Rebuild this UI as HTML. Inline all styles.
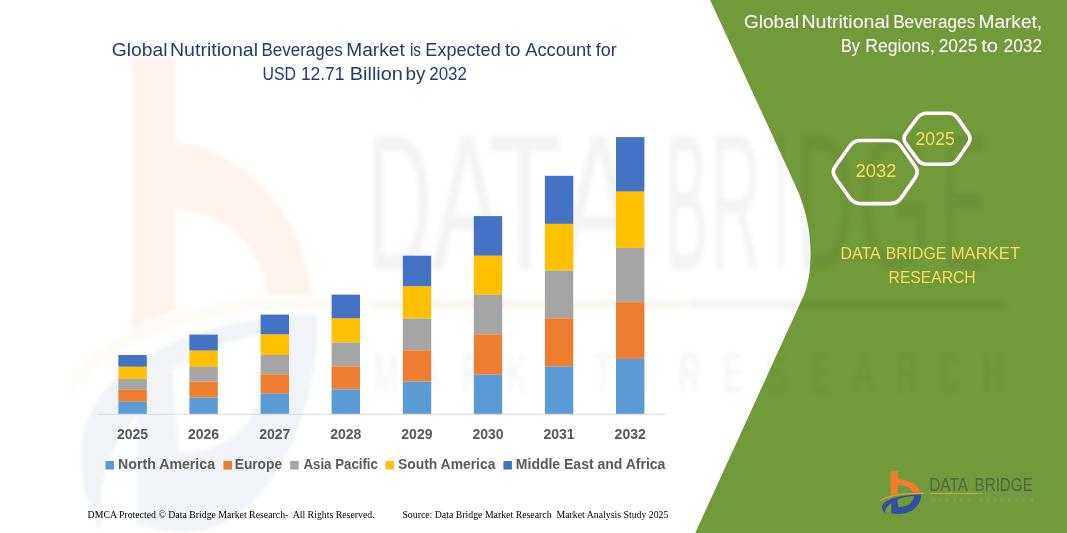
<!DOCTYPE html>
<html><head><meta charset="utf-8"><title>chart</title>
<style>
html,body{margin:0;padding:0;background:#fff;}
body{width:1067px;height:533px;overflow:hidden;font-family:"Liberation Sans",sans-serif;}
svg{display:block}
text{font-family:"Liberation Sans",sans-serif;}
.yr{font-size:14px;font-weight:bold;fill:#595959;}
.lg{font-weight:bold;fill:#595959;}
.ttl{fill:#243c6b;}
.rt{fill:#ffffff;}
.yl{fill:#ffd966;}
.ft{font-family:"Liberation Serif",serif;font-size:10px;fill:#000;white-space:pre;}
</style></head><body>
<svg width="1067" height="533" viewBox="0 0 1067 533">
<defs>
<filter id="bl2" x="-5%" y="-5%" width="110%" height="110%"><feGaussianBlur stdDeviation="1.6"/></filter>
<filter id="bl3" x="-5%" y="-10%" width="110%" height="120%"><feGaussianBlur stdDeviation="2.8"/></filter>
<g id="logoicon">
<path id="lo1" d="M890.5,471.2 L897.7,471.2 L897.7,478.9 C905.5,478.9 919,484 920.3,492.6 L912.8,492.6 C912.3,488.5 906,485 897.7,485 L897.7,494 L890.5,495.6 Z" fill="#f47b30"/>
<path id="lo2" d="M880.2,500.9 C888,495.6 903,492.9 923.6,493.4" fill="none" stroke="#ee9a3a" stroke-width="1.1"/>
<path id="lo3" fill-rule="evenodd" fill="#2f4f9f" d="M885.3,513.9 C879.5,507.5 881.5,502.5 890.5,499 C899,495.8 910,494.5 921.2,494.4 C921.5,503 914.5,511.5 904,513.6 C899.5,514.4 895,514 891.3,513.2 L891.3,503.6 C887.5,505.6 884.6,509 885.3,513.9 Z M897.2,499.4 C903,497.2 909,496.3 914.2,496.1 C913.5,500 911.5,503 909,504.5 C906,506.3 902,506.9 898.2,506.8 Z"/>
</g>
<g id="logotext">
<text x="929.2" y="490.6" font-size="17.7" fill="#4e6247" fill-opacity="0.9" textLength="38.83" lengthAdjust="spacingAndGlyphs">DATA</text><text x="974.51" y="490.6" font-size="17.7" fill="#4e6247" fill-opacity="0.9" textLength="58.33" lengthAdjust="spacingAndGlyphs">BRIDGE</text>
<rect x="930.4" y="493" width="52.3" height="1" fill="#d8a23c"/>
<rect x="982.7" y="493" width="53" height="1" fill="#78906a"/>
<text x="930.4" y="502.3" font-size="5.2" fill="#88a276" textLength="103" lengthAdjust="spacing">MARKET RESEARCH</text>
</g>
</defs>
<rect width="1067" height="533" fill="#ffffff"/>
<!-- green panel -->
<path d="M710.1,0 L1067,0 L1067,533 L695.2,533 L803.5,296 C808.5,284.5 810.6,268 810.6,254 C810.6,232 806.7,210 795.2,185 Z" fill="#719b3a"/>
<!-- watermark: stretched logo -->
<g filter="url(#bl2)">
<g transform="translate(132,57) scale(6.03,11.1) translate(-890.5,-471.2)">
<use href="#lo1" opacity="0.085"/><use href="#lo2" opacity="0.05"/><use href="#lo3" opacity="0.06"/>
</g>
</g>
<g filter="url(#bl3)">
<g opacity="0.05" fill="#333333">
<text transform="translate(366.38,269) scale(1,1.93)" font-size="100" textLength="65.77" lengthAdjust="spacingAndGlyphs">D</text>
<text transform="translate(432.0,269) scale(1,1.93)" font-size="100" textLength="71.48" lengthAdjust="spacingAndGlyphs">A</text>
<text transform="translate(488.11,269) scale(1,1.93)" font-size="100" textLength="73.96" lengthAdjust="spacingAndGlyphs">T</text>
<text transform="translate(558.0,269) scale(1,1.93)" font-size="100" textLength="81.4" lengthAdjust="spacingAndGlyphs">A</text>
<text transform="translate(666.14,269) scale(1,1.93)" font-size="100" textLength="41.47" lengthAdjust="spacingAndGlyphs">B</text>
<text transform="translate(710.49,269) scale(1,1.93)" font-size="100" textLength="50.96" lengthAdjust="spacingAndGlyphs">R</text>
<text transform="translate(772.71,269) scale(1,1.93)" font-size="100" textLength="15.24" lengthAdjust="spacingAndGlyphs">I</text>
<text transform="translate(796.85,269) scale(1,1.93)" font-size="100" textLength="56.88" lengthAdjust="spacingAndGlyphs">D</text>
<text transform="translate(857.5,269) scale(1,1.93)" font-size="100" textLength="74.67" lengthAdjust="spacingAndGlyphs">G</text>
<text transform="translate(941.57,269) scale(1,1.93)" font-size="100" textLength="46.35" lengthAdjust="spacingAndGlyphs">E</text>
<text transform="translate(0,392) scale(1,1.83)" font-size="30" text-anchor="middle" x="386.0 429.4 472.8 516.2 559.6 603.0 646.4 689.8 733.2 776.6 820.0 863.4 906.8 950.2 993.6" y="0">MARKET RESEARCH</text>
<rect x="688" y="301" width="320" height="7"/>
</g>
<rect x="372" y="301" width="316" height="7" fill="#e8913a" opacity="0.10"/>
</g>
<!-- axis -->
<line x1="97" y1="414.3" x2="666" y2="414.3" stroke="#d9d9d9" stroke-width="1"/>
<rect x="118.4" y="355.0" width="28.4" height="11.8" fill="#4472c4"/>
<rect x="118.4" y="366.8" width="28.4" height="12.0" fill="#ffc000"/>
<rect x="118.4" y="378.8" width="28.4" height="11.0" fill="#a5a5a5"/>
<rect x="118.4" y="389.8" width="28.4" height="11.9" fill="#ed7d31"/>
<rect x="118.4" y="401.7" width="28.4" height="12.1" fill="#5b9bd5"/>
<text x="132.6" y="439" text-anchor="middle" class="yr">2025</text>
<rect x="189.4" y="334.6" width="28.4" height="16.1" fill="#4472c4"/>
<rect x="189.4" y="350.7" width="28.4" height="16.2" fill="#ffc000"/>
<rect x="189.4" y="366.9" width="28.4" height="14.7" fill="#a5a5a5"/>
<rect x="189.4" y="381.6" width="28.4" height="16.0" fill="#ed7d31"/>
<rect x="189.4" y="397.6" width="28.4" height="16.2" fill="#5b9bd5"/>
<text x="203.6" y="439" text-anchor="middle" class="yr">2026</text>
<rect x="260.6" y="314.6" width="28.4" height="20.0" fill="#4472c4"/>
<rect x="260.6" y="334.6" width="28.4" height="20.3" fill="#ffc000"/>
<rect x="260.6" y="354.9" width="28.4" height="19.4" fill="#a5a5a5"/>
<rect x="260.6" y="374.3" width="28.4" height="19.4" fill="#ed7d31"/>
<rect x="260.6" y="393.7" width="28.4" height="20.1" fill="#5b9bd5"/>
<text x="274.8" y="439" text-anchor="middle" class="yr">2027</text>
<rect x="331.6" y="294.6" width="28.4" height="24.0" fill="#4472c4"/>
<rect x="331.6" y="318.6" width="28.4" height="23.9" fill="#ffc000"/>
<rect x="331.6" y="342.5" width="28.4" height="23.9" fill="#a5a5a5"/>
<rect x="331.6" y="366.4" width="28.4" height="23.1" fill="#ed7d31"/>
<rect x="331.6" y="389.5" width="28.4" height="24.3" fill="#5b9bd5"/>
<text x="345.8" y="439" text-anchor="middle" class="yr">2028</text>
<rect x="402.8" y="255.7" width="28.4" height="30.8" fill="#4472c4"/>
<rect x="402.8" y="286.5" width="28.4" height="32.1" fill="#ffc000"/>
<rect x="402.8" y="318.6" width="28.4" height="31.8" fill="#a5a5a5"/>
<rect x="402.8" y="350.4" width="28.4" height="31.2" fill="#ed7d31"/>
<rect x="402.8" y="381.6" width="28.4" height="32.2" fill="#5b9bd5"/>
<text x="416.9" y="439" text-anchor="middle" class="yr">2029</text>
<rect x="473.8" y="216.1" width="28.4" height="39.7" fill="#4472c4"/>
<rect x="473.8" y="255.8" width="28.4" height="38.9" fill="#ffc000"/>
<rect x="473.8" y="294.7" width="28.4" height="39.7" fill="#a5a5a5"/>
<rect x="473.8" y="334.4" width="28.4" height="40.2" fill="#ed7d31"/>
<rect x="473.8" y="374.6" width="28.4" height="39.2" fill="#5b9bd5"/>
<text x="488.0" y="439" text-anchor="middle" class="yr">2030</text>
<rect x="544.9" y="175.8" width="28.4" height="48.1" fill="#4472c4"/>
<rect x="544.9" y="223.9" width="28.4" height="46.7" fill="#ffc000"/>
<rect x="544.9" y="270.6" width="28.4" height="47.7" fill="#a5a5a5"/>
<rect x="544.9" y="318.3" width="28.4" height="48.4" fill="#ed7d31"/>
<rect x="544.9" y="366.7" width="28.4" height="47.1" fill="#5b9bd5"/>
<text x="559.1" y="439" text-anchor="middle" class="yr">2031</text>
<rect x="616.0" y="137.1" width="28.4" height="54.6" fill="#4472c4"/>
<rect x="616.0" y="191.7" width="28.4" height="56.2" fill="#ffc000"/>
<rect x="616.0" y="247.9" width="28.4" height="54.3" fill="#a5a5a5"/>
<rect x="616.0" y="302.2" width="28.4" height="56.7" fill="#ed7d31"/>
<rect x="616.0" y="358.9" width="28.4" height="54.9" fill="#5b9bd5"/>
<text x="630.2" y="439" text-anchor="middle" class="yr">2032</text>
<!-- legend -->
<rect x="105.5" y="461" width="8.5" height="8.5" fill="#5b9bd5"/>
<rect x="223.5" y="461" width="8.5" height="8.5" fill="#ed7d31"/>
<rect x="290.2" y="461" width="8.5" height="8.5" fill="#a5a5a5"/>
<rect x="385.4" y="461" width="8.5" height="8.5" fill="#ffc000"/>
<rect x="503.4" y="461" width="8.5" height="8.5" fill="#4472c4"/>
<!-- words -->
<text x="111.8" y="55.9" class="ttl" font-size="17.6" textLength="55.78" lengthAdjust="spacingAndGlyphs">Global</text>
<text x="169.97" y="55.9" class="ttl" font-size="17.6" textLength="88.02" lengthAdjust="spacingAndGlyphs">Nutritional</text>
<text x="261.47" y="55.9" class="ttl" font-size="17.6" textLength="81.26" lengthAdjust="spacingAndGlyphs">Beverages</text>
<text x="346.2" y="55.9" class="ttl" font-size="17.6" textLength="58.53" lengthAdjust="spacingAndGlyphs">Market</text>
<text x="409.94" y="55.9" class="ttl" font-size="17.6" textLength="11.15" lengthAdjust="spacingAndGlyphs">is</text>
<text x="425.39" y="55.9" class="ttl" font-size="17.6" textLength="75.33" lengthAdjust="spacingAndGlyphs">Expected</text>
<text x="504.9" y="55.9" class="ttl" font-size="17.6" textLength="15.66" lengthAdjust="spacingAndGlyphs">to</text>
<text x="525.3" y="55.9" class="ttl" font-size="17.6" textLength="66.04" lengthAdjust="spacingAndGlyphs">Account</text>
<text x="595.8" y="55.9" class="ttl" font-size="17.6" textLength="20.99" lengthAdjust="spacingAndGlyphs">for</text>
<text x="262.61" y="80.1" class="ttl" font-size="17.6" textLength="33.44" lengthAdjust="spacingAndGlyphs">USD</text>
<text x="300.91" y="80.1" class="ttl" font-size="17.6" textLength="43.59" lengthAdjust="spacingAndGlyphs">12.71</text>
<text x="349.74" y="80.1" class="ttl" font-size="17.6" textLength="53.18" lengthAdjust="spacingAndGlyphs">Billion</text>
<text x="405.52" y="80.1" class="ttl" font-size="17.6" textLength="19.88" lengthAdjust="spacingAndGlyphs">by</text>
<text x="429.31" y="80.1" class="ttl" font-size="17.6" textLength="37.58" lengthAdjust="spacingAndGlyphs">2032</text>
<text x="744.01" y="28.1" class="rt" font-size="17.6" textLength="54.94" lengthAdjust="spacingAndGlyphs">Global</text>
<text x="801.47" y="28.1" class="rt" font-size="17.6" textLength="88.22" lengthAdjust="spacingAndGlyphs">Nutritional</text>
<text x="893.16" y="28.1" class="rt" font-size="17.6" textLength="82.08" lengthAdjust="spacingAndGlyphs">Beverages</text>
<text x="978.51" y="28.1" class="rt" font-size="17.6" textLength="63.62" lengthAdjust="spacingAndGlyphs">Market,</text>
<text x="841.03" y="51.6" class="rt" font-size="17.6" textLength="18.97" lengthAdjust="spacingAndGlyphs">By</text>
<text x="865.32" y="51.6" class="rt" font-size="17.6" textLength="69.49" lengthAdjust="spacingAndGlyphs">Regions,</text>
<text x="938.68" y="51.6" class="rt" font-size="17.6" textLength="38.72" lengthAdjust="spacingAndGlyphs">2025</text>
<text x="981.2" y="51.6" class="rt" font-size="17.6" textLength="16.82" lengthAdjust="spacingAndGlyphs">to</text>
<text x="1003.49" y="51.6" class="rt" font-size="17.6" textLength="38.62" lengthAdjust="spacingAndGlyphs">2032</text>
<text x="840.56" y="258.8" class="yl" font-size="17.3" textLength="40.07" lengthAdjust="spacingAndGlyphs">DATA</text>
<text x="885.87" y="258.8" class="yl" font-size="17.3" textLength="60.39" lengthAdjust="spacingAndGlyphs">BRIDGE</text>
<text x="950.7" y="258.8" class="yl" font-size="17.3" textLength="69.49" lengthAdjust="spacingAndGlyphs">MARKET</text>
<text x="888.58" y="283.1" class="yl" font-size="17.3" textLength="87.0" lengthAdjust="spacingAndGlyphs">RESEARCH</text>
<text x="855.54" y="177" class="yl" font-size="18" textLength="41.01" lengthAdjust="spacingAndGlyphs">2032</text>
<text x="915.58" y="145" class="yl" font-size="18" textLength="39.14" lengthAdjust="spacingAndGlyphs">2025</text>
<text x="118.12" y="469.3" class="lg" font-size="14" textLength="96.89" lengthAdjust="spacingAndGlyphs">North America</text>
<text x="234.74" y="469.3" class="lg" font-size="14" textLength="47.3" lengthAdjust="spacingAndGlyphs">Europe</text>
<text x="303.49" y="469.3" class="lg" font-size="14" textLength="74.44" lengthAdjust="spacingAndGlyphs">Asia Pacific</text>
<text x="397.98" y="469.3" class="lg" font-size="14" textLength="97.43" lengthAdjust="spacingAndGlyphs">South America</text>
<text x="515.83" y="469.3" class="lg" font-size="14" textLength="149.58" lengthAdjust="spacingAndGlyphs">Middle East and Africa</text>
<!-- hexagons -->
<path d="M835.4,177.7 Q831.3,172.0 835.4,166.3 L849.7,146.2 Q853.8,140.5 860.8,140.5 L890.2,140.5 Q897.2,140.5 901.2,146.2 L915.2,166.3 Q919.2,172.0 915.2,177.7 L901.2,197.9 Q897.2,203.6 890.2,203.6 L860.8,203.6 Q853.8,203.6 849.7,197.9 Z" fill="none" stroke="#ffffff" stroke-width="3.6" stroke-linejoin="round"/>
<path d="M905.7,143.4 Q902.2,138.5 905.8,133.7 L917.2,118.0 Q920.8,113.2 926.8,113.2 L948.2,113.2 Q954.2,113.2 957.6,118.1 L968.4,133.6 Q971.8,138.5 968.4,143.5 L957.6,159.3 Q954.2,164.3 948.2,164.3 L926.8,164.3 Q920.8,164.3 917.3,159.4 Z" fill="none" stroke="#ffffff" stroke-width="3.6" stroke-linejoin="round"/>
<!-- logo -->
<use href="#logoicon"/>
<use href="#logotext"/>
<!-- footer -->
<text x="87.6" y="517.7" class="ft" textLength="287" lengthAdjust="spacingAndGlyphs">DMCA Protected © Data Bridge Market Research-  All Rights Reserved.</text>
<text x="402.4" y="517.7" class="ft" textLength="266" lengthAdjust="spacingAndGlyphs">Source: Data Bridge Market Research  Market Analysis Study 2025</text>
</svg>
</body></html>
